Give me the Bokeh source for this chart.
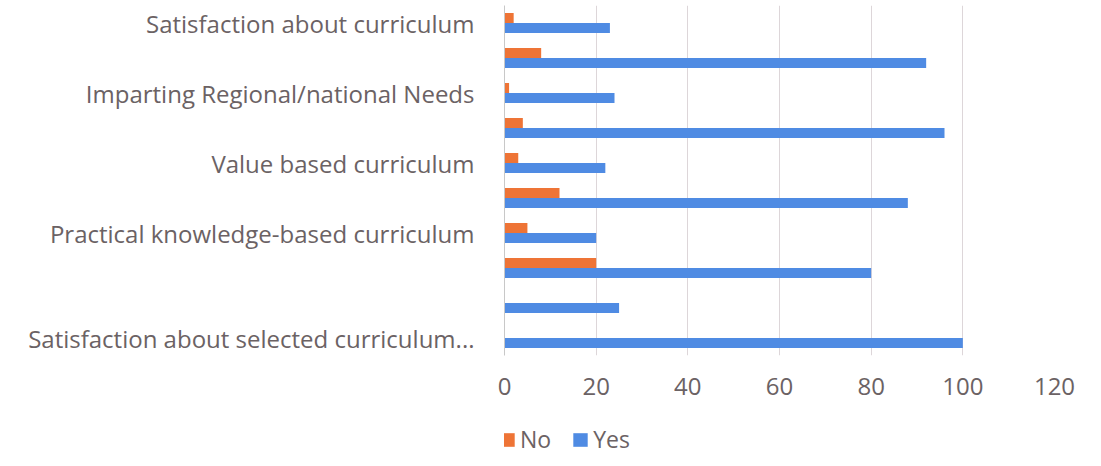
from bokeh.plotting import figure
from bokeh.layouts import column
from bokeh.models import ColumnDataSource, FixedTicker, Legend, LegendItem
from bokeh.transform import dodge
from bokeh.embed import file_html
from bokeh.resources import INLINE

# rows from bottom to top
positions = [1, 2, 3, 4, 5, 6, 7, 8, 9, 10]
labels = ["Satisfaction about selected curriculum...", "", "",
          "Practical knowledge-based curriculum", "",
          "Value based curriculum", "",
          "Imparting Regional/national Needs", "",
          "Satisfaction about curriculum"]
yes = [100, 25, 80, 20, 88, 22, 96, 24, 92, 23]
no = [0, 0, 20, 5, 12, 3, 4, 1, 8, 2]
x_ticks = [0, 20, 40, 60, 80, 100, 120]
series = ["No", "Yes"]

FONT = "Open Sans"
TXT = "#6b6264"
ORANGE = "#EE7436"
BLUE = "#4F8BE3"

src = ColumnDataSource(dict(pos=positions, yes=yes, no=no))

p = figure(width=1090, height=415, output_backend="svg", toolbar_location=None,
           x_range=(0, 120), y_range=(0.5, 10.5),
           min_border_left=504, min_border_right=36, min_border_top=5,
           min_border_bottom=60)

bh = 0.285
r_no = p.hbar(y=dodge("pos", bh / 2), right="no", left=0, height=bh, source=src,
              fill_color=ORANGE, line_color=None)
r_yes = p.hbar(y=dodge("pos", -bh / 2), right="yes", left=0, height=bh, source=src,
               fill_color=BLUE, line_color=None)

p.outline_line_color = None
p.background_fill_color = "white"
p.border_fill_color = "white"

p.xaxis.ticker = FixedTicker(ticks=x_ticks)
p.xaxis.axis_line_color = None
p.xaxis.major_tick_line_color = None
p.xaxis.minor_tick_line_color = None
p.xaxis.major_label_standoff = 16
p.xaxis.major_label_text_font = FONT
p.xaxis.major_label_text_font_size = "24px"
p.xaxis.major_label_text_color = TXT

p.yaxis.ticker = FixedTicker(ticks=positions)
p.yaxis.major_label_overrides = {pp: lab for pp, lab in zip(positions, labels)}
p.yaxis.axis_line_color = "#C8C8C8"
p.yaxis.major_tick_line_color = None
p.yaxis.minor_tick_line_color = None
p.yaxis.major_label_standoff = 24
p.yaxis.major_label_text_font = FONT
p.yaxis.major_label_text_font_size = "24px"
p.yaxis.major_label_text_color = TXT

p.xgrid.grid_line_color = "#DDD6D9"
p.xgrid.grid_line_width = 1
p.ygrid.grid_line_color = None

# legend strip below the chart (swatch renderers sit outside its visible range)
p2 = figure(width=1090, height=45, output_backend="svg", toolbar_location=None,
            x_range=(0, 1), y_range=(0, 1),
            min_border_left=0, min_border_right=0, min_border_top=0, min_border_bottom=0)
p2.axis.visible = False
p2.grid.grid_line_color = None
p2.outline_line_color = None
p2.background_fill_color = "white"
swatch = ColumnDataSource(dict(y=[-5], left=[0], right=[1]))
l_no = p2.hbar(y="y", left="left", right="right", height=0.5, source=swatch,
               fill_color=ORANGE, line_color=None)
l_yes = p2.hbar(y="y", left="left", right="right", height=0.5, source=swatch,
                fill_color=BLUE, line_color=None)

legend = Legend(items=[LegendItem(label=series[0], renderers=[l_no]),
                       LegendItem(label=series[1], renderers=[l_yes])],
                orientation="horizontal", location=(-6, 5),
                label_text_font=FONT, label_text_font_size="23px",
                label_text_color=TXT, glyph_width=18, glyph_height=17,
                spacing=20, label_standoff=4, padding=0, margin=0,
                border_line_color=None, background_fill_alpha=0)
p2.add_layout(legend, "center")

open("out.html", "w").write(file_html(column(p, p2), INLINE))
